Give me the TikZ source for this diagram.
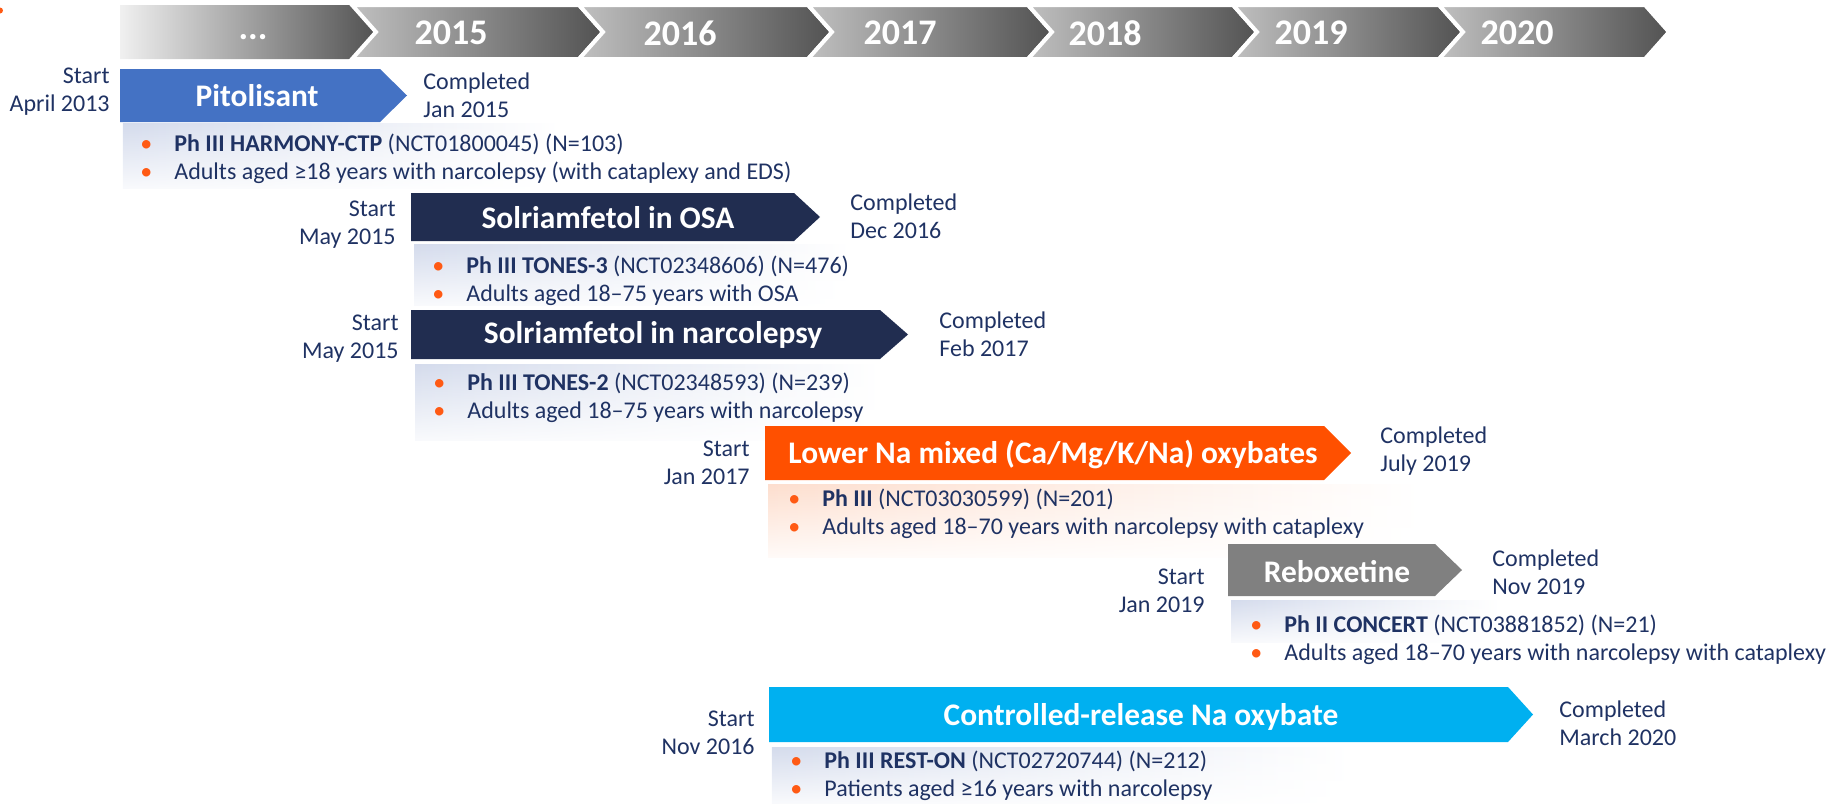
\documentclass[tikz,border=0pt]{standalone}
\usepackage{fontspec}
\setmainfont{Carlito}
\usetikzlibrary{fadings}
\definecolor{ink}{RGB}{31,50,99}
\definecolor{dotorange}{RGB}{255,90,20}
\definecolor{pitoblue}{RGB}{68,114,196}
\definecolor{solnavy}{RGB}{33,45,80}
\definecolor{naorange}{RGB}{255,80,0}
\definecolor{rebgray}{RGB}{128,128,128}
\definecolor{crcyan}{RGB}{0,176,240}
\definecolor{chevfirst}{RGB}{240,240,240}
\definecolor{chevlight}{RGB}{192,192,192}
\definecolor{chevdark}{RGB}{82,82,82}
\definecolor{bluepanel}{RGB}{212,219,236}
\definecolor{peachpanel}{RGB}{253,222,206}
\newcommand{\bul}{\makebox[17pt][l]{\textcolor{dotorange}{\textbullet}}}
\tikzfading[name=fade down,top color=transparent!0,bottom color=transparent!85]
\tikzset{
  yeartext/.style={text=white,font=\fontsize{18}{21}\selectfont\bfseries},
  bartitle/.style={text=white,font=\fontsize{15.7}{18}\selectfont\bfseries},
  datelabel/.style={text=ink,font=\fontsize{12}{14}\selectfont,inner sep=0pt},
  startlabel/.style={datelabel,align=right,anchor=east},
  endlabel/.style={datelabel,align=left,anchor=west},
  details/.style={datelabel,align=left,anchor=west},
  panel/.style={left color=#1,right color=white,path fading=fade down},
}

\begin{document}
\begin{tikzpicture}[x=0.5pt,y=-0.5pt]
  \useasboundingbox (0,0) rectangle (1845,803);
  \fill[dotorange] (0,10.5) circle (3);
  % years
  \shade[left color=chevfirst,right color=chevdark]
    (120,5) -- (352,5) -- (376,32) -- (352,59) -- (120,59) -- cycle;
  \node[yeartext] (ydots) at (253,37) {...};
  \foreach \tip/\lab [remember=\tip as \prev (initially 376)] in
      {603/2015,832/2016,1052/2017,1257/2018,1463/2019,1669/2020}{
    \shadedraw[left color=chevlight,right color=chevdark,draw=white,line width=2pt]
      ({\prev-24},5) -- ({\tip-24},5) -- (\tip,32) -- ({\tip-24},59)
      -- ({\prev-24},59) -- (\prev,32) -- cycle;
    \node[yeartext] (y\lab) at ({\tip-152},33) {\lab};
  }

  % Pitolisant
  \shade[panel=bluepanel] (123,124) rectangle (560,188);
  \fill[pitoblue] (120,69) -- (380,69) -- (407,95.5) -- (380,122) -- (120,122) -- cycle;
  \node[bartitle] (pito) at (257,96) {Pitolisant};
  \node[startlabel] (pitostart) at (110,92) {Start\\April 2013};
  \node[endlabel] (pitoend) at (423,95) {Completed\\Jan 2015};
  \node[details] (pitodet) at (140,159)
    {\bul\textbf{Ph III HARMONY-CTP} (NCT01800045) (N=103)\\
     \bul Adults aged ≥18 years with narcolepsy (with cataplexy and EDS)};

  % Solriamfetol in OSA
  \shade[panel=bluepanel] (414,245) rectangle (850,305);
  \fill[solnavy] (411,193) -- (794,193) -- (820,217) -- (794,241) -- (411,241) -- cycle;
  \node[bartitle] (osa) at (608,218) {Solriamfetol in OSA};
  \node[startlabel] (osastart) at (396,224.5) {Start\\May 2015};
  \node[endlabel] (osaend) at (850,216.5) {Completed\\Dec 2016};
  \node[details] (osadet) at (432,280.5)
    {\bul\textbf{Ph III TONES-3} (NCT02348606) (N=476)\\
     \bul Adults aged 18–75 years with OSA};

  % Solriamfetol in narcolepsy
  \shade[panel=bluepanel] (415,364) rectangle (880,440);
  \fill[solnavy] (411,310) -- (880,310) -- (908,334.5) -- (880,359) -- (411,359) -- cycle;
  \node[bartitle] (narc) at (653,335) {Solriamfetol in narcolepsy};
  \node[startlabel] (narcstart) at (399,339) {Start\\May 2015};
  \node[endlabel] (narcend) at (939,334.5) {Completed\\Feb 2017};
  \node[details] (narcdet) at (433,397.5)
    {\bul\textbf{Ph III TONES-2} (NCT02348593) (N=239)\\
     \bul Adults aged 18–75 years with narcolepsy};

  % lower Na oxybates
  \shade[panel=peachpanel] (768,484) rectangle (1420,557);
  \fill[naorange] (765,426) -- (1324,426) -- (1351,453) -- (1324,480) -- (765,480) -- cycle;
  \node[bartitle] (lowna) at (1053,455) {Lower Na mixed (Ca/Mg/K/Na) oxybates};
  \node[startlabel] (lownastart) at (750,462.5) {Start\\Jan 2017};
  \node[endlabel] (lownaend) at (1380,451.5) {Completed\\July 2019};
  \node[details] (lownadet) at (788,513.5)
    {\bul\textbf{Ph III} (NCT03030599) (N=201)\\
     \bul Adults aged 18–70 years with narcolepsy with cataplexy};

  % Reboxetine
  \shade[panel=bluepanel] (1231,600) rectangle (1500,642);
  \fill[rebgray] (1228,544) -- (1435,544) -- (1462,570) -- (1435,596) -- (1228,596) -- cycle;
  \node[bartitle] (rebox) at (1337,572) {Reboxetine};
  \node[startlabel] (reboxstart) at (1205,591) {Start\\Jan 2019};
  \node[endlabel] (reboxend) at (1492,572.5) {Completed\\Nov 2019};
  \node[details] (reboxdet) at (1250,640)
    {\bul\textbf{Ph II CONCERT} (NCT03881852) (N=21)\\
     \bul Adults aged 18–70 years with narcolepsy with cataplexy};

  % controlled-release Na oxybate
  \shade[panel=bluepanel] (772,747) rectangle (1350,803);
  \fill[crcyan] (769,687) -- (1508,687) -- (1533,714.5) -- (1508,742) -- (769,742) -- cycle;
  \node[bartitle] (crna) at (1141,717) {Controlled-release Na oxybate};
  \node[startlabel] (crnastart) at (755,732.5) {Start\\Nov 2016};
  \node[endlabel] (crnaend) at (1559,723) {Completed\\March 2020};
  \node[details] (crnadet) at (790,775.5)
    {\bul\textbf{Ph III REST-ON} (NCT02720744) (N=212)\\
     \bul Patients aged ≥16 years with narcolepsy};
\end{tikzpicture}
\end{document}
